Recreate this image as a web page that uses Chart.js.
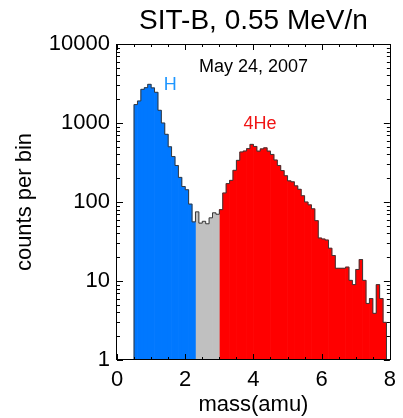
<!DOCTYPE html>
<html><head><meta charset="utf-8">
<script src="https://cdn.jsdelivr.net/npm/chart.js@4/dist/chart.umd.min.js"></script>
<style>html,body{margin:0;padding:0;background:#fff;} #wrap{width:403px;height:418px;}</style>
</head><body><div id="wrap"><canvas id="c" width="403" height="418"></canvas></div>
<script>
// ---- texts ----
const titleText = 'SIT-B, 0.55 MeV/n';
const dateText = 'May 24, 2007';
const hLabel = 'H';
const heLabel = '4He';
const xTitle = 'mass(amu)';
const yTitle = 'counts per bin';
// ---- ticks ----
const xTickValues = [0, 2, 4, 6, 8];
const xMinorStep = 0.5;
const yTickValues = [1, 10, 100, 1000, 10000];
// ---- data: lower bin edges (amu) and counts per bin ----
const binWidth = 0.1;
const hBins = [0.5,0.6,0.7,0.8,0.9,1.0,1.1,1.2,1.3,1.4,1.5,1.6,1.7,1.8,1.9,2.0,2.1,2.2];
const hCounts = [1710,1900,2670,2800,3090,2780,2450,1450,1000,720,500,376,290,205,157,143,94,56];
const gapBins = [2.3,2.4,2.5,2.6,2.7,2.8,2.9];
const gapCounts = [75,54,57,53,63,73,70];
const heBins = [3.0,3.1,3.2,3.3,3.4,3.5,3.6,3.7,3.8,3.9,
                4.0,4.1,4.2,4.3,4.4,4.5,4.6,4.7,4.8,4.9,
                5.0,5.1,5.2,5.3,5.4,5.5,5.6,5.7,5.8,5.9,
                6.0,6.1,6.2,6.3,6.4,6.5,6.6,6.7,6.8,6.9,
                7.0,7.1,7.2,7.3,7.4,7.5,7.6,7.7,7.8];
const heCounts = [80,130,171,188,252,337,430,442,474,537,
                  505,440,470,485,440,400,340,290,250,215,
                  185,180,160,145,120,100,92,82,58,35,
                  34,33,26,21,14.5,14.5,14.5,15,10.2,9,
                  14,18.7,10.2,5.2,6.0,3.9,9,6.0,3.0];

const FONT = "'Liberation Sans', Arial, Helvetica, sans-serif";
Chart.defaults.font.family = FONT;
Chart.defaults.color = '#000';

const toBars = (bins, counts) => bins.map((b, i) => ({x: b + binWidth / 2, y: counts[i]}));
const allBins = hBins.concat(gapBins, heBins);
const allCounts = hCounts.concat(gapCounts, heCounts);
const outline = [{x: allBins[0], y: yTickValues[0]}];
allBins.forEach((b, i) => outline.push({x: b, y: allCounts[i]}));
const lastEdge = allBins[allBins.length - 1] + binWidth;
outline.push({x: lastEdge, y: allCounts[allCounts.length - 1]});
outline.push({x: lastEdge, y: yTickValues[0]});

const decor = {
  id: 'decor',
  afterDatasetsDraw(chart) {
    const {ctx, chartArea: {left, right, top, bottom}, scales: {x, y}} = chart;
    ctx.save();
    ctx.strokeStyle = '#000';
    ctx.lineWidth = 1;
    ctx.beginPath();
    const xmin = x.min, xmax = x.max;
    for (let v = xmin; v <= xmax + 1e-9; v += xMinorStep) {
      const px = Math.round(x.getPixelForValue(v)) + 0.5;
      const len = xTickValues.some(t => Math.abs(t - v) < 1e-9) ? 6 : 3;
      ctx.moveTo(px, bottom); ctx.lineTo(px, bottom - len);
      ctx.moveTo(px, top); ctx.lineTo(px, top + len);
    }
    for (let i = 0; i < yTickValues.length; i++) {
      const d = yTickValues[i];
      const maxK = i < yTickValues.length - 1 ? 9 : 1;
      for (let k = 1; k <= maxK; k++) {
        const py = Math.round(y.getPixelForValue(d * k)) + 0.5;
        const len = k === 1 ? 6 : 3;
        ctx.moveTo(left, py); ctx.lineTo(left + len, py);
        ctx.moveTo(right, py); ctx.lineTo(right - len, py);
      }
    }
    ctx.stroke();
    ctx.strokeRect(Math.round(left) - 0.5, Math.round(top) + 0.5, Math.round(right - left) + 1, Math.round(bottom - top) - 1);
    // annotations
    ctx.textAlign = 'center';
    ctx.textBaseline = 'middle';
    ctx.font = '18px ' + FONT;
    ctx.fillStyle = '#000';
    ctx.fillText(dateText, (left + right) / 2, top + 23);
    ctx.fillStyle = 'rgb(30,150,255)';
    ctx.fillText(hLabel, x.getPixelForValue(1.56), y.getPixelForValue(3000));
    ctx.fillStyle = 'rgb(240,20,20)';
    ctx.fillText(heLabel, x.getPixelForValue(4.19), y.getPixelForValue(960));
    ctx.restore();
  }
};

new Chart(document.getElementById('c'), {
  type: 'bar',
  data: {
    datasets: [
      {type: 'line', data: outline, stepped: 'before', borderColor: '#3a3a3a', borderWidth: 1,
       pointRadius: 0, fill: false, order: 0},
      {data: toBars(hBins, hCounts), backgroundColor: 'rgb(0,120,255)', borderWidth: 0,
       barPercentage: 1, categoryPercentage: 1, grouped: false, order: 1},
      {data: toBars(gapBins, gapCounts), backgroundColor: 'rgb(192,192,192)', borderWidth: 0,
       barPercentage: 1, categoryPercentage: 1, grouped: false, order: 1},
      {data: toBars(heBins, heCounts), backgroundColor: 'rgb(255,0,0)', borderWidth: 0,
       barPercentage: 1, categoryPercentage: 1, grouped: false, order: 1}
    ]
  },
  options: {
    responsive: false,
    animation: false,
    layout: {padding: {left: 0, right: 12, top: 0, bottom: 0}},
    plugins: {
      legend: {display: false},
      tooltip: {enabled: false},
      title: {display: true, text: titleText, font: {size: 28, weight: 'normal'}, color: '#000',
              padding: {top: 4.5, bottom: 5.9}, fullSize: false}
    },
    scales: {
      x: {
        type: 'linear', min: 0, max: 8, offset: false,
        grid: {display: false, drawTicks: false}, border: {display: false},
        afterBuildTicks: s => { s.ticks = xTickValues.map(v => ({value: v})); },
        ticks: {font: {size: 22}, padding: 7, maxRotation: 0, autoSkip: false, callback: v => String(v)},
        title: {display: true, text: xTitle, font: {size: 22}, padding: {top: 0, bottom: 0}},
        afterFit: s => { s.height = 58; }
      },
      y: {
        type: 'logarithmic', min: 1, max: 10000,
        grid: {display: false, drawTicks: false}, border: {display: false},
        afterBuildTicks: s => { s.ticks = yTickValues.map(v => ({value: v})); },
        ticks: {font: {size: 22}, padding: 7, autoSkip: false, callback: v => String(v)},
        title: {display: true, text: yTitle, font: {size: 22}, padding: {top: 12, bottom: 0}},
        afterFit: s => { s.width = 117; }
      }
    }
  },
  plugins: [decor]
});
</script></body></html>
